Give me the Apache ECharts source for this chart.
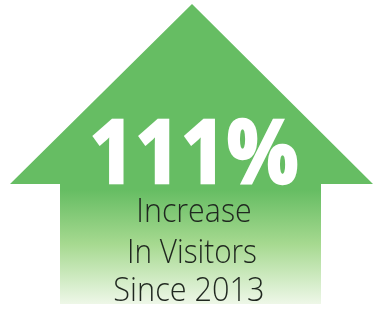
<!DOCTYPE html>
<html><head><meta charset="utf-8">
<script src="https://cdn.jsdelivr.net/npm/echarts@6/dist/echarts.min.js"></script>
<style>html,body{margin:0;padding:0;background:#fff}#c{width:381px;height:310px}</style>
</head><body><div id="c"></div>
<script>
var headline = ['111%'];
var subLines = ['Increase', 'In Visitors', 'Since 2013'];
var arrowColor = '#66BD63';

var chart = echarts.init(document.getElementById('c'), null, {renderer: 'canvas'});
var grad = new echarts.graphic.LinearGradient(0, 0, 0, 1, [
  {offset: 0, color: arrowColor},
  {offset: 0.62, color: arrowColor},
  {offset: 0.8, color: '#a6d990'},
  {offset: 1, color: '#eef7e8'}
]);
var elements = [{
  type: 'polygon',
  shape: {points: [[192,4],[373,184],[321,184],[321,304],[60,304],[60,184],[10,184]]},
  style: {fill: grad}
}, {
  type: 'text',
  x: 194, y: 158, scaleX: 0.92,
  style: {text: headline[0], fill: '#fff', stroke: '#fff', lineWidth: 2.5,
    font: 'bold 87px "Open Sans"', align: 'center', verticalAlign: 'middle'}
}];
var ys = [213, 254, 292];
var xs = [194, 192, 189];
var sx = [0.92, 0.9, 0.93];
subLines.forEach(function (t, i) {
  elements.push({type: 'text', x: xs[i], y: ys[i], scaleX: sx[i],
    style: {text: t, fill: '#1f271f', font: '300 33px "Open Sans"', align: 'center', verticalAlign: 'middle'}});
});
chart.setOption({animation: false, graphic: {elements: elements}});
</script></body></html>
